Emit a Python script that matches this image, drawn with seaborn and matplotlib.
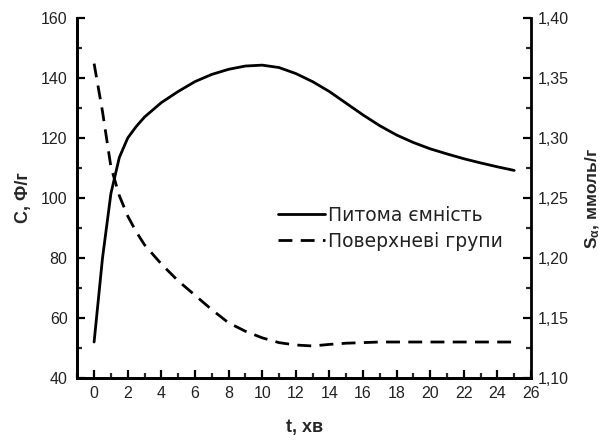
import numpy as np
import pandas as pd
import matplotlib
matplotlib.use("Agg")
import matplotlib.pyplot as plt
from matplotlib.ticker import MultipleLocator, FixedLocator, FuncFormatter
import seaborn as sns

# Data
t_cap = [0, 0.5, 1, 1.5, 2, 2.5, 3, 4, 5, 6, 7, 8, 9, 10, 11, 12, 13, 14, 15,
         16, 17, 18, 19, 20, 21, 22, 23, 24, 25]
capacity = [52, 80, 101.5, 113.5, 120, 123.8, 127, 131.8, 135.5, 138.8, 141.2, 142.9, 144, 144.3,
            143.5, 141.5, 138.8, 135.5, 131.6, 127.7, 124.1, 121, 118.5, 116.4, 114.7, 113.1, 111.7, 110.4, 109.2]
t_grp = [0, 0.5, 1, 1.5, 2, 2.5, 3, 4, 5, 6, 7, 8, 9, 10, 11, 12, 13, 14, 15, 16, 17,
         18, 19, 20, 21, 22, 23, 24, 25]
groups = [1.362, 1.322, 1.276, 1.252, 1.235, 1.222, 1.211, 1.195, 1.181, 1.169, 1.157, 1.146,
          1.139, 1.1335, 1.1295, 1.1275, 1.1267, 1.128, 1.129, 1.1295, 1.13,
          1.13, 1.13, 1.13, 1.13, 1.13, 1.13, 1.13, 1.13]
label_cap = "Питома ємність"
label_grp = "Поверхневі групи"

sns.set_style("ticks")
plt.rcParams['font.family'] = ['Liberation Sans', 'DejaVu Sans']
plt.rcParams['mathtext.fontset'] = 'custom'
plt.rcParams['mathtext.rm'] = 'Liberation Sans'
plt.rcParams['mathtext.it'] = 'Liberation Sans:italic'
plt.rcParams['mathtext.bf'] = 'Liberation Sans:bold'

fig = plt.figure(figsize=(6.02, 4.43), dpi=100)
ax = fig.add_axes([0.1284, 0.1467, 0.7537, 0.8126])
ax2 = ax.twinx()

df1 = pd.DataFrame({"t": t_cap, "v": capacity})
df2 = pd.DataFrame({"t": t_grp, "v": groups})
sns.lineplot(data=df1, x="t", y="v", ax=ax, color="black", lw=2, label=label_cap, legend=False)
sns.lineplot(data=df2, x="t", y="v", ax=ax2, color="black", lw=2, label=label_grp, legend=False)
ax2.lines[0].set_dashes((5, 3))

ax.set_xlim(-1, 26)
ax.set_ylim(40, 160)
ax2.set_ylim(1.10, 1.40)

ax.xaxis.set_major_locator(MultipleLocator(2))
ax.xaxis.set_minor_locator(MultipleLocator(1))
ax.yaxis.set_major_locator(MultipleLocator(20))
ax.yaxis.set_minor_locator(MultipleLocator(10))
ax2.yaxis.set_major_locator(FixedLocator([1.10, 1.15, 1.20, 1.25, 1.30, 1.35, 1.40]))
ax2.yaxis.set_minor_locator(FixedLocator([1.125, 1.175, 1.225, 1.275, 1.325, 1.375]))
ax2.yaxis.set_major_formatter(FuncFormatter(lambda v, p: f"{v:.2f}".replace(".", ",")))

for a in (ax, ax2):
    a.tick_params(which="major", direction="in", length=6, width=1.6, labelsize=11.5,
                  colors="black", labelcolor="#222222")
    a.tick_params(which="minor", direction="in", length=3.5, width=1.6)
    for s in a.spines.values():
        s.set_linewidth(2)
        s.set_color("black")
    a.spines["top"].set_visible(False)
ax.tick_params(axis="y", pad=7)
ax.tick_params(axis="x", pad=6)
ax2.tick_params(axis="y", pad=5)
ax.spines["right"].set_visible(False)

ax.set_xlabel("t, хв", fontsize=13, fontweight="bold")
ax.xaxis.set_label_coords(0.5, -0.115)
ax.set_ylabel("C, Ф/г", fontsize=13, fontweight="bold")
ax.yaxis.set_label_coords(-0.10, 0.5)
ax2.set_ylabel(r"S$_\mathbf{\alpha}$, ммоль/г", fontsize=12.5, fontweight="bold")
ax2.yaxis.set_label_coords(1.115, 0.5)

h1, l1 = ax.get_legend_handles_labels()
h2, l2 = ax2.get_legend_handles_labels()
leg = ax2.legend(h1 + h2, l1 + l2, loc="upper left", bbox_to_anchor=(0.442, 0.478),
                 frameon=False, borderpad=0, borderaxespad=0,
                 prop={"family": "DejaVu Sans", "size": 13.5},
                 handlelength=2.5, handletextpad=0.15, labelspacing=0.35)
for txt in leg.get_texts():
    txt.set_color("#222222")

fig.savefig("out.png", dpi=100)
